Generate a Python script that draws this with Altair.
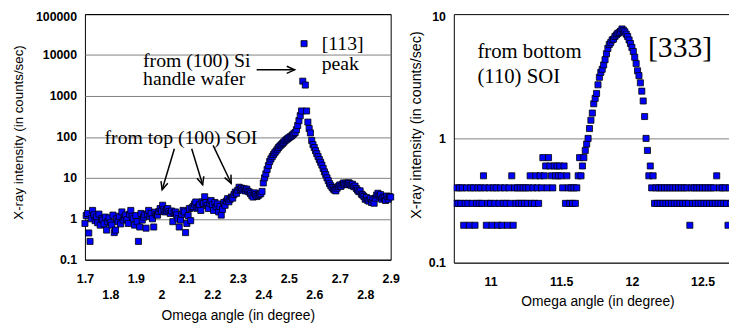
import altair as alt
import numpy as np
import pandas as pd

# ---------------- data ----------------
# left panel: scan 1.700 .. 2.900 deg, step 0.005
left_start = 1.700
left_step = 0.005
left_counts = [
    0.77, 1.2, 1.35, 0.45, 0.28, 1.0, 1.6, 1.25, 0.9, 1.1,
    0.8, 1.3, 0.7, 1.0, 0.93, 0.75, 1.1, 0.53, 0.85, 1.05,
    0.8, 0.7, 1.23, 0.46, 0.53, 1.0, 0.85, 1.15, 0.75, 1.47,
    0.93, 1.1, 1.23, 0.95, 0.77, 1.3, 1.6, 1.15, 1.0, 0.7,
    1.2, 0.85, 0.28, 0.63, 1.35, 0.93, 1.1, 1.25, 0.59, 1.3,
    1.6, 1.15, 1.35, 1.0, 0.63, 1.45, 1.25, 1.23, 1.5, 1.78,
    1.55, 2.14, 1.7, 1.47, 1.6, 1.78, 1.5, 1.35, 1.55, 0.85,
    1.4, 1.47, 1.25, 1.0, 0.63, 0.93, 1.3, 1.6, 1.47, 0.46,
    0.77, 1.2, 1.78, 0.9, 1.85, 2.0, 2.3, 2.57, 1.8, 1.95,
    2.2, 1.6, 2.6, 2.35, 3.45, 2.5, 2.1, 1.78, 2.4, 2.8,
    2.2, 1.6, 2.5, 1.95, 2.3, 1.47, 2.0, 1.23, 1.7, 2.5,
    2.14, 2.7, 3.1, 2.6, 3.0, 3.4, 3.2, 3.9, 4.5, 4.2,
    5.0, 5.9, 5.2, 5.6, 5.0, 5.4, 4.8, 5.3, 4.7, 4.5,
    4.1, 3.7, 3.4, 4.3, 3.9, 3.5, 3.7, 4.0, 4.1, 4.66,
    7.5,
    10, 12.5, 16, 20, 25, 29, 33, 37, 41, 45,
    50, 55, 60, 64, 69, 74, 80, 85, 90, 95,
    100, 105, 112, 120, 128, 150, 190, 250, 330, 430,
    2300, 19000, 1850, 430, 230, 160, 125, 82, 65, 55,
    46, 39, 33, 28, 24, 20.5, 17, 14, 12, 10,
    8.5, 7.2, 6.4, 5.8, 5.3, 5.0, 4.8, 5.6, 6.2, 6.7,
    6.2, 7.0, 7.5, 6.8, 7.4, 7.0, 7.6, 7.2, 6.5, 7.0,
    6.1, 6.3, 5.5, 5.0, 4.6, 4.8, 4.0, 3.8, 3.5, 3.0,
    3.3, 2.8, 2.7, 3.1, 2.5, 2.9, 2.4, 3.2, 3.8, 4.2,
    3.6, 3.9, 3.0, 3.4, 3.2, 2.8, 3.6, 3.0, 3.5, 3.4,
]

# right panel: scan 10.75 .. 12.70 deg, step 0.01
right_start = 10.75
right_step = 0.01
right_counts = [
    0.3, 0.4, 0.3, 0.4, 0.3, 0.4, 0.2, 0.3, 0.4, 0.3,
    0.2, 0.4, 0.3, 0.4, 0.2, 0.3, 0.4, 0.3, 0.4, 0.3,
    0.5, 0.4, 0.2, 0.3, 0.4, 0.3, 0.2, 0.4, 0.3, 0.4,
    0.2, 0.3, 0.4, 0.2, 0.3, 0.4, 0.3, 0.2, 0.4, 0.3,
    0.5, 0.2, 0.4, 0.3, 0.4, 0.3, 0.4, 0.3, 0.4, 0.3,
    0.4, 0.3, 0.4, 0.5, 0.3, 0.4, 0.3, 0.5, 0.4, 0.3,
    0.5, 0.4, 0.7, 0.5, 0.6, 0.4, 0.7, 0.6, 0.5, 0.4,
    0.6, 0.5, 0.6, 0.5, 0.6, 0.5, 0.4, 0.6, 0.3, 0.5,
    0.4, 0.3, 0.4, 0.3, 0.4, 0.3, 0.4, 0.5, 0.7, 0.5,
    0.6, 0.7, 0.8, 0.9, 1.0, 1.2, 1.4, 1.6, 1.9, 2.1,
    2.3, 2.7, 3.1, 3.4, 3.6, 3.9, 4.3, 4.8, 5.3, 5.7,
    5.9, 6.2, 6.3, 6.6, 6.8, 7.0, 7.1, 7.3, 7.6, 7.4,
    7.2, 6.9, 6.6, 6.2, 5.8, 5.4, 5.0, 4.5, 4.0, 3.5,
    3.2, 2.8, 2.4, 2.0, 1.5, 1.0, 0.8, 0.5, 0.6, 0.4,
    0.5, 0.3, 0.4, 0.3, 0.4, 0.3, 0.4, 0.3, 0.4, 0.3,
    0.4, 0.3, 0.4, 0.3, 0.4, 0.3, 0.4, 0.3, 0.4, 0.3,
    0.4, 0.3, 0.4, 0.3, 0.4, 0.3, 0.2, 0.4, 0.3, 0.4,
    0.3, 0.4, 0.3, 0.4, 0.3, 0.4, 0.3, 0.4, 0.3, 0.4,
    0.3, 0.4, 0.3, 0.4, 0.3, 0.5, 0.3, 0.4, 0.3, 0.4,
    0.3, 0.4, 0.3, 0.2, 0.4, 0.3,
]

left_ticks_x_upper = [1.7, 1.9, 2.1, 2.3, 2.5, 2.7, 2.9]
left_ticks_x_lower = [1.8, 2.0, 2.2, 2.4, 2.6, 2.8]
left_ticks_y = [0.1, 1, 10, 100, 1000, 10000, 100000]
right_ticks_x = [11, 11.5, 12, 12.5]
right_ticks_y = [0.1, 1, 10]

# annotations (text and arrows) in data coordinates
left_note_text = ["from (100) Si", "handle wafer", "[113]", "peak", "from top (100) SOI"]
left_note_x = [1.928, 1.928, 2.629, 2.629, 1.777]
left_note_y = [5100, 1893, 13200, 4350, 67.8]

arrow_x = [2.374, 2.051, 2.119, 2.203]
arrow_y = [4350, 51.4, 51.4, 62]
arrow_x2 = [2.523, 2.003, 2.162, 2.274]
arrow_y2 = [4350, 5.11, 6.75, 7.37]
arrow_angle = [0, 106.6, 73.3, 64.5]

right_note_text = ["from bottom", "(110) SOI", "[333]"]
right_note_x = [10.907, 10.907, 12.114]
right_note_y = [4.42, 2.78, 4.48]
right_note_size = [21, 21, 30]

# ---------------- tables ----------------
left_df = pd.DataFrame({
    "omega": np.round(left_start + left_step * np.arange(len(left_counts)), 3),
    "counts": left_counts,
})
right_df = pd.DataFrame({
    "omega": np.round(right_start + right_step * np.arange(len(right_counts)), 3),
    "counts": right_counts,
})
left_notes = pd.DataFrame({"omega": left_note_x, "counts": left_note_y,
                           "text": left_note_text})
arrows = pd.DataFrame({"omega": arrow_x, "counts": arrow_y,
                       "omega2": arrow_x2, "counts2": arrow_y2})
heads = pd.DataFrame({"omega": arrow_x2, "counts": arrow_y2, "angle": arrow_angle})
right_notes = pd.DataFrame({"omega": right_note_x, "counts": right_note_y,
                            "text": right_note_text, "size": right_note_size})

SANS = "Liberation Sans"
SERIF = "Liberation Serif"
GRID = "#808080"

label_style = dict(labelFont=SANS, labelFontWeight="bold", labelFontSize=12.5,
                   labelColor="black", labelFlush=False, labelOverlap=False)
title_style = dict(titleFont=SANS, titleFontWeight="normal", titleColor="black")

# ---------------- left panel ----------------
x_axis_left_upper = alt.Axis(
    orient="bottom", values=left_ticks_x_upper, format="~g",
    title="Omega angle (in degree)",
    grid=False, ticks=False, tickSize=0, domain=False,
    labelBaseline="alphabetic", labelPadding=23, **label_style,
    titleFontSize=14, titleBaseline="alphabetic", titleX=155, titleY=61, **title_style,
)
x_axis_left_lower = alt.Axis(
    orient="bottom", values=left_ticks_x_lower, format="~g", title="",
    grid=False, ticks=False, tickSize=0, domain=False,
    labelBaseline="alphabetic", labelPadding=39.7, **label_style,
)
y_axis_left = alt.Axis(
    values=left_ticks_y, format="~g", title="X-ray intensity (in counts/sec)",
    grid=True, gridWidth=1,
    gridColor={"condition": {"test": "datum.value >= 100000 || datum.value <= 0.1",
                             "value": "black"}, "value": GRID},
    ticks=False, tickSize=0, domain=False,
    labelPadding=8.5, **label_style,
    labelOffset={"condition": {"test": "datum.value >= 100000", "value": 2.5}, "value": 0},
    titleFontSize=13.5, titleAngle=270, titleBaseline="middle", titleAlign="center",
    titleX=-67.5, titleY=119.5, **title_style,
)

left_x_scale = alt.Scale(domain=[1.7, 2.9], nice=False, zero=False)
left_y_scale = alt.Scale(type="log", domain=[0.1, 100000], nice=False)

left_points = alt.Chart(left_df).mark_square(
    size=38, color="#0000FF", stroke="black", strokeWidth=0.8, opacity=1
).encode(
    x=alt.X("omega:Q", scale=left_x_scale, axis=x_axis_left_upper),
    y=alt.Y("counts:Q", scale=left_y_scale, axis=y_axis_left),
)
left_text = alt.Chart(left_notes).mark_text(
    font=SERIF, fontSize=20, align="left", baseline="alphabetic", color="black"
).encode(
    x=alt.X("omega:Q", axis=x_axis_left_lower),
    y="counts:Q",
    text="text:N",
)
left_shafts = alt.Chart(arrows).mark_rule(color="black", strokeWidth=1.5).encode(
    x=alt.X("omega:Q", axis=None), y="counts:Q",
    x2=alt.X2("omega2"), y2=alt.Y2("counts2"))
left_heads = alt.Chart(heads).mark_point(
    shape="M -1 -0.45 L 0 0 L -1 0.45", filled=False, size=256,
    stroke="black", strokeWidth=1.5, opacity=1
).encode(x=alt.X("omega:Q", axis=None), y="counts:Q",
         angle=alt.Angle("angle:Q", scale=None))

left = alt.layer(left_points, left_text, left_shafts, left_heads).resolve_axis(
    x="independent"
).properties(
    width=310, height=249,
    view=alt.ViewBackground(stroke="black", strokeWidth=1),
)

# ---------------- right panel ----------------
x_axis_right = alt.Axis(
    values=right_ticks_x, format="~g", title="Omega angle (in degree)",
    grid=False, ticks=False, tickSize=0, domain=True, domainColor="black", domainWidth=1,
    labelBaseline="alphabetic", labelPadding=22.7, **label_style,
    titleFontSize=14, titleBaseline="alphabetic", titleX=145.7, titleY=43.5, **title_style,
)
y_axis_right = alt.Axis(
    values=right_ticks_y, format="~g", title="X-ray intensity (in counts/sec)",
    grid=True, gridWidth=1,
    gridColor={"condition": {"test": "datum.value >= 10", "value": "black"}, "value": GRID},
    ticks=False, tickSize=0, domain=True, domainColor="black", domainWidth=1,
    labelPadding=8.5, **label_style,
    labelOffset={"condition": {"test": "datum.value >= 10", "value": 2.5}, "value": 0},
    titleFontSize=14.5, titleAngle=270, titleBaseline="middle", titleAlign="center",
    titleX=-38, titleY=112, **title_style,
)

right_points = alt.Chart(right_df).mark_square(
    size=38, color="#0000FF", stroke="black", strokeWidth=0.8, opacity=1, clip=True
).encode(
    x=alt.X("omega:Q", scale=alt.Scale(domain=[10.74, 12.687], nice=False, zero=False),
            axis=x_axis_right),
    y=alt.Y("counts:Q", scale=alt.Scale(type="log", domain=[0.1, 10], nice=False),
            axis=y_axis_right),
)
right_text = alt.Chart(right_notes).mark_text(
    font=SERIF, align="left", baseline="alphabetic", color="black"
).encode(x="omega:Q", y="counts:Q", text="text:N",
         size=alt.Size("size:Q", scale=None, legend=None))

right = alt.layer(right_points, right_text).properties(width=279, height=252)

chart = alt.hconcat(left, right, spacing=7).properties(
    padding={"left": 3, "top": 0, "right": 0, "bottom": 0},
    background="white",
).configure_view(strokeWidth=0)

chart.save("out.html", embed_options={"renderer": "svg", "actions": False})
